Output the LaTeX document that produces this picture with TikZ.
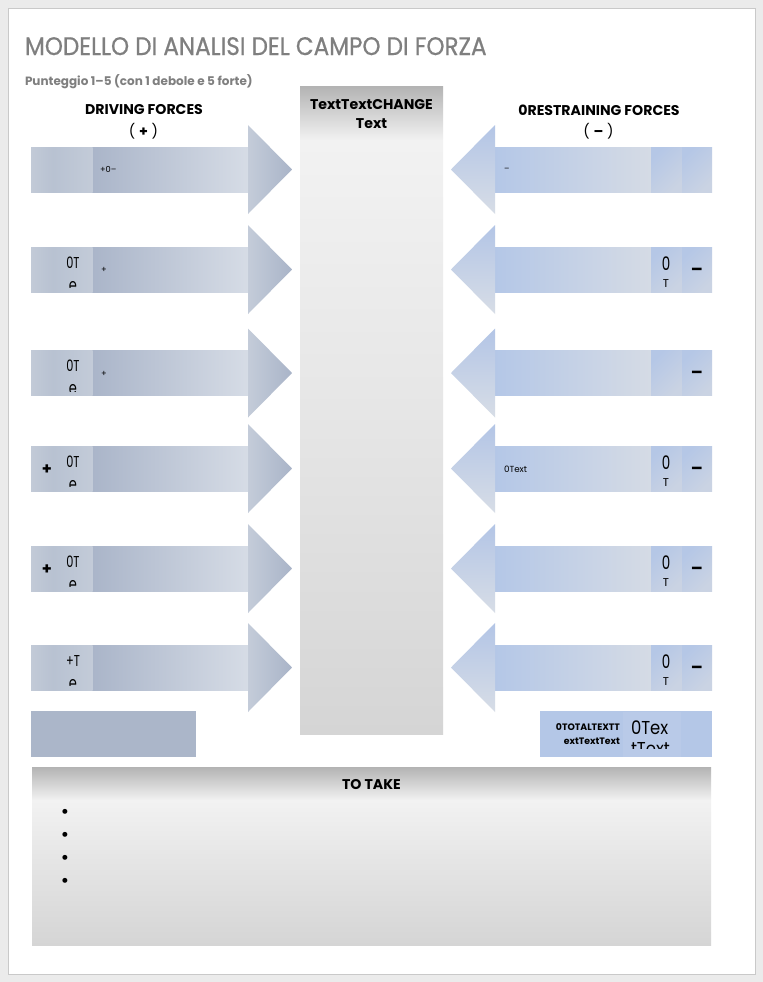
\documentclass[tikz,border=0pt]{standalone}
\usepackage{fontspec}
\setmainfont{Poppins}
\newfontfamily\titlefont[FakeStretch=0.91,FakeBold=0.6]{Poppins}
\newfontfamily\condfont[FakeStretch=0.72]{Poppins}
\newfontfamily\semicond[FakeStretch=0.88]{Poppins}
\definecolor{pagegray}{HTML}{EBEBEB}
\definecolor{pageline}{HTML}{C9C9C9}
\definecolor{titlegray}{HTML}{7F7F7F}
\definecolor{dbL}{HTML}{AAB5C9}
\definecolor{dbR}{HTML}{D6DCE6}
\definecolor{dcoL}{HTML}{C2CAD7}
\definecolor{dcoR}{HTML}{B7C1D1}
\definecolor{dctL}{HTML}{B8C2D2}
\definecolor{dctR}{HTML}{C3CBD8}
\definecolor{dhL}{HTML}{C4CCD9}
\definecolor{dhR}{HTML}{A9B4C8}
\definecolor{rbL}{HTML}{B4C7E7}
\definecolor{rbR}{HTML}{D5DBE5}
\definecolor{rcL}{HTML}{B5C7E6}
\definecolor{rcR}{HTML}{CAD3E3}
\definecolor{rhT}{HTML}{B3C5E6}
\definecolor{rhB}{HTML}{D7DDE6}
\definecolor{boxL}{HTML}{ABB6C9}
\definecolor{boxR}{HTML}{B4C7E7}
\definecolor{boxRc}{HTML}{B9CAE8}
\definecolor{cgT}{HTML}{B3B3B3}
\definecolor{cgL}{HTML}{F2F2F2}
\definecolor{cgM}{HTML}{E6E6E6}
\definecolor{cgB}{HTML}{D5D5D5}
\pgfdeclareverticalshading{changeshade}{100bp}{color(0bp)=(cgB); color(25bp)=(cgB); color(50bp)=(cgM); color(70.8bp)=(cgL); color(75bp)=(cgT); color(100bp)=(cgT)}
\pgfdeclareverticalshading{takeshade}{100bp}{color(0bp)=(cgB); color(25bp)=(cgB); color(50bp)=(cgM); color(65.7bp)=(cgL); color(75bp)=(cgT); color(100bp)=(cgT)}
\newcommand\drivshape[1]{%
  \begin{scope}[shift={(0,#1)}]
    \shade[left color=dbL,right color=dbR] (92,-22.5) rectangle (249,22.5);
    \shade[left color=dcoL,right color=dcoR] (31,-22.5) rectangle (54.5,22.5);
    \shade[left color=dctL,right color=dctR] (54,-22.5) rectangle (92.5,22.5);
    \shade[left color=dhL,right color=dhR] (248,-44.5) -- (292,0) -- (248,44.5) -- cycle;
  \end{scope}}
\newcommand\restshape[1]{%
  \begin{scope}[shift={(0,#1)}]
    \shade[left color=rbL,right color=rbR] (494,-22.5) rectangle (651.5,22.5);
    \shade[left color=rcL,right color=rcR,shading angle=45] (651,-22.5) rectangle (682.5,22.5);
    \shade[left color=rcL,right color=rcR,shading angle=45] (682,-22.5) rectangle (712,22.5);
    \shade[top color=rhT,bottom color=rhB] (495,-44.5) -- (451,0) -- (495,44.5) -- cycle;
  \end{scope}}
\newcommand\drivcell[4]{%
  \begin{scope}
    \clip (54,#1-22.5) rectangle (92,#1+18);
    \node[anchor=base,font=\condfont\fontsize{11.8}{12}\selectfont] (#4a) at (73,#1-1.5) {#2};
    \node[anchor=base,font=\condfont\fontsize{13.5}{14}\selectfont] (#4b) at (73,#1+21.5) {#3};
  \end{scope}}
\newcommand\restcell[2]{%
  \node[anchor=base,font=\condfont\fontsize{14}{14}\selectfont] (#2a) at (666,#1+1) {0};
  \node[anchor=base,font=\fontsize{8.5}{9}\selectfont] (#2b) at (666,#1+17.5) {T};}
\newcommand\restminus[2]{%
  \node[font=\bfseries\fontsize{13}{13}\selectfont] (#2) at (697,#1+2) {–};}
\tikzset{headfont/.style={font=\bfseries\fontsize{10.6}{11}\selectfont},
  smalltext/.style={anchor=west,font=\fontsize{6.2}{7}\selectfont},
  totbig/.style={anchor=base west,font=\semicond\fontsize{14}{14}\selectfont,text height=7.5pt,text depth=0pt}}
\begin{document}
\begin{tikzpicture}[x=0.75pt,y=-0.75pt,every node/.style={inner sep=0pt,outer sep=0pt}]
\useasboundingbox (0,0) rectangle (763,982);
\fill[pagegray] (0,0) rectangle (763,982);
\fill[white,draw=pageline,line width=0.5pt] (8,8) rectangle (755,974);

% title block
\node[anchor=base west,text=titlegray,font=\titlefont\fontsize{19}{20}\selectfont] (title) at (25,55) {MODELLO DI ANALISI DEL CAMPO DI FORZA};
\node[anchor=base west,text=titlegray,font=\bfseries\fontsize{9}{9}\selectfont] (subtitle) at (25,85.5) {Punteggio 1–5 (con 1 debole e 5 forte)};

% headers
\node[headfont] (drivhead) at (144,110) {DRIVING FORCES};
\node[font=\fontsize{10.6}{11}\selectfont] (drivsign) at (143.5,131) {( \textbf{+} )};
\node[headfont] (resthead) at (599,110) {0RESTRAINING FORCES};
\node[font=\fontsize{10.6}{11}\selectfont] (restsign) at (598.5,131) {( \textbf{–} )};

% central change box
\shade[shading=changeshade] (300,86) rectangle (443,734);
\node[headfont] (change1) at (371.5,105) {TextTextCHANGE};
\node[headfont] (change2) at (371.5,124) {Text};

% driving arrows
\foreach \yy in {169.5,269.5,373,468.5,568.5,667.5} {\drivshape{\yy}}
\node[smalltext] (d1t) at (100,169.5) {+0–};
\drivcell{269.5}{0T}{e}{d2c}
\node[smalltext] (d2t) at (101,270) {+};
\drivcell{373}{0T}{e}{d3c}
\node[smalltext] (d3t) at (101,373.5) {+};
\node[font=\bfseries\fontsize{12}{12}\selectfont] (d4p) at (47,469.5) {+};
\drivcell{468.5}{0T}{e}{d4c}
\node[font=\bfseries\fontsize{12}{12}\selectfont] (d5p) at (47,569.5) {+};
\drivcell{568.5}{0T}{e}{d5c}
\drivcell{667.5}{+T}{e}{d6c}

% restraining arrows
\foreach \yy in {169.5,269.5,373,468.5,568.5,667.5} {\restshape{\yy}}
\node[anchor=west,font=\fontsize{6}{7}\selectfont] (r1t) at (504,170) {–};
\restcell{269.5}{r2c}\restminus{269.5}{r2m}
\restminus{373}{r3m}
\node[anchor=west,font=\fontsize{6.6}{7}\selectfont] (r4t) at (504,469.5) {0Text};
\restcell{468.5}{r4c}\restminus{468.5}{r4m}
\restcell{568.5}{r5c}\restminus{568.5}{r5m}
\restcell{667.5}{r6c}\restminus{667.5}{r6m}

% totals
\fill[boxL] (31,711) rectangle (196,757);
\fill[boxR] (540,711) rectangle (712,757);
\fill[boxRc] (623,712) rectangle (681,757);
\node[anchor=base east,font=\bfseries\fontsize{7}{8}\selectfont] (totlab1) at (620,730.5) {0TOTALTEXTT};
\node[anchor=base east,font=\bfseries\fontsize{7}{8}\selectfont] (totlab2) at (620,744.5) {extTextText};
\begin{scope}
  \clip (623,711) rectangle (681,748);
  \node[totbig] (tottop) at (631,734) {0Tex};
  \node[totbig] (totbot) at (631,755) {tText};
\end{scope}

% to take
\shade[shading=takeshade] (32,767) rectangle (711,945);
\node[headfont] (take) at (371.5,785) {TO TAKE};
\foreach \yy [count=\k] in {814,837,860,883} {\node[font=\fontsize{15}{15}\selectfont] (b\k) at (65,\yy) {•};}
\end{tikzpicture}
\end{document}
